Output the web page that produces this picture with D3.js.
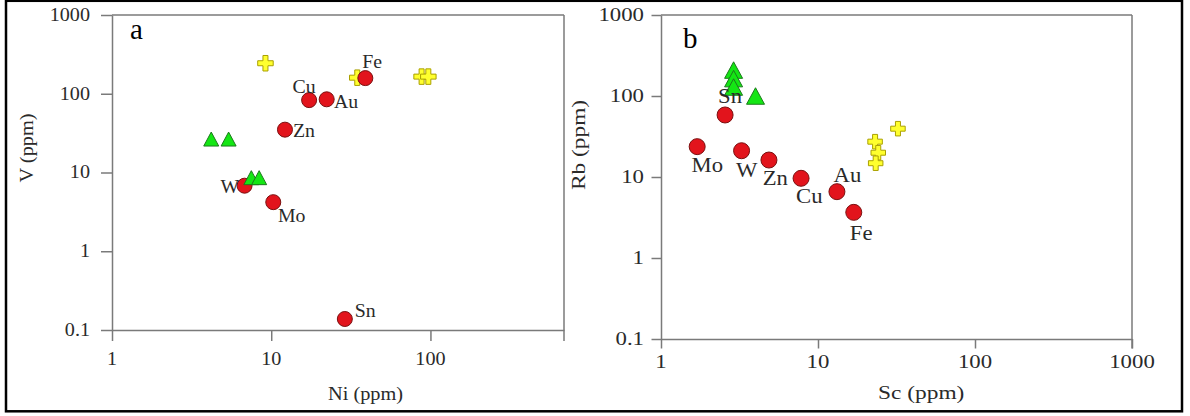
<!DOCTYPE html>
<html><head><meta charset="utf-8">
<script src="https://cdn.jsdelivr.net/npm/d3@7/dist/d3.min.js"></script>
<style>body{margin:0;background:#fff}svg{display:block}</style>
</head><body>
<svg id="c" width="1190" height="416"></svg>
<script>
// ---------- data ----------
const elements = ["Fe","Cu","Au","Zn","W","Mo","Sn"];
// panel a: Ni (x) vs V (y)
const niA = [39, 17.3, 22.3, 12.2, 6.8, 10.3, 29];
const vA  = [158, 83, 85, 35, 6.8, 4.2, 0.138];
const crossNiA = [9.2, 34.7, 88, 97];
const crossVA  = [244, 160, 165, 165];
const triNiA = [4.2, 5.4, 7.5, 8.4];
const triVA  = [26.6, 26.6, 8.6, 8.6];
// panel b: Sc (x) vs Rb (y)
const scB = [16.9, 7.8, 13.2, 4.87, 3.26, 1.70, 2.56];
const rbB = [3.66, 9.64, 6.59, 16.2, 21.1, 23.7, 58.3];
const crossScB = [23.1, 24.2, 23.3, 32.3];
const crossRbB = [27.3, 19.95, 14.8, 39.5];
const triScB = [2.9, 2.9, 2.9, 4.0];
const triRbB = [209, 164, 129, 100];
// tick labels
const xTicksA = [1, 10, 100];
const xTicksB = [1, 10, 100, 1000];
const yTicks = [0.1, 1, 10, 100, 1000];

// ---------- layout ----------
const svg = d3.select("#c");
const FONT = "'Liberation Serif','Times New Roman',serif";
const AX = "#7a7a7a", TXT = "#2a2a2a";

svg.append("rect").attr("x",6).attr("y",0.8).attr("width",1176).attr("height",410.5)
  .attr("fill","none").attr("stroke","#000").attr("stroke-width",2.5);

function txt(g, s, x, y, size, sx, opts={}) {
  let tr = `translate(${x},${y})` + (opts.rot ? ` rotate(${opts.rot})` : "") + ` scale(${sx},1)`;
  return g.append("text").attr("transform", tr).attr("font-family",FONT)
    .attr("font-size",size).attr("fill",TXT)
    .attr("text-anchor", opts.anchor || "start")
    .attr("dy", opts.dy || 0).text(s);
}

const panels = [
  { id:"a", L:112, R:564, T:15, B:330, xDom:[1,690], xTicks:xTicksA, tick:11,
    xs:niA, ys:vA, cx:crossNiA, cy:crossVA, tx:triNiA, ty:triVA,
    r:7.5, crossS:15.5, crossT:5, triW:15, triH:14,
    tickFont:18, tickSx:1.12, yLabEnd:90, xLabY:365,
    labFont:18, labSx:1.1,
    xTitle:"Ni (ppm)", xTitleX:328, xTitleY:400, yTitle:"V (ppm)", yTitleX:33, yTitleY:148, titleFont:18, titleSx:1.13,
    pl:"a", plX:130, plY:39,
    offs:{Fe:[-3,-10],Cu:[-16.6,-7],Au:[7.3,9],Zn:[8,7],W:[-24,7.3],Mo:[4.7,19.7],Sn:[10,-2.3]} },
  { id:"b", L:661, R:1132, T:15, B:339, xDom:[1,1000], xTicks:xTicksB, tick:9.5,
    xs:scB, ys:rbB, cx:crossScB, cy:crossRbB, tx:triScB, ty:triRbB,
    r:8, crossS:14.5, crossT:5, triW:18, triH:16.5,
    tickFont:19, tickSx:1.2, yLabEnd:644, xLabY:368,
    labFont:21, labSx:1.08,
    xTitle:"Sc (ppm)", xTitleX:878, xTitleY:399, yTitle:"Rb (ppm)", yTitleX:585, yTitleY:145, titleFont:19.5, titleSx:1.2,
    pl:"b", plX:683, plY:48,
    offs:{Fe:[-4,27.7],Cu:[-5,24.7],Au:[-3.4,-10],Zn:[-6.3,25],W:[-5.7,26],Mo:[-5.6,25],Sn:[-7,-12]} }
];

const fmt = d => d >= 1 ? String(d) : String(d);

panels.forEach(p => {
  const g = svg.append("g");
  const x = d3.scaleLog().domain(p.xDom).range([p.L, p.R]);
  const y = d3.scaleLog().domain([0.1,1000]).range([p.B, p.T]);

  // axes
  const gx = g.append("g").attr("transform",`translate(0,${p.B})`)
    .call(d3.axisBottom(x).tickValues(p.xTicks).tickSize(p.tick).tickSizeOuter(0).tickFormat(""));
  const gy = g.append("g").attr("transform",`translate(${p.L},0)`)
    .call(d3.axisLeft(y).tickValues(yTicks).tickSize(p.tick).tickSizeOuter(0).tickFormat(""));
  [gx,gy].forEach(a => { a.selectAll("path,line").attr("stroke",AX).attr("stroke-width",1.5); });
  // frame top & right (right extends as tick)
  g.append("line").attr("x1",p.L).attr("x2",p.R).attr("y1",p.T).attr("y2",p.T).attr("stroke",AX).attr("stroke-width",1.5);
  g.append("line").attr("x1",p.R).attr("x2",p.R).attr("y1",p.T).attr("y2",p.B+p.tick).attr("stroke",AX).attr("stroke-width",1.5);

  // tick labels
  p.xTicks.forEach(t => txt(g, fmt(t), x(t), p.xLabY, p.tickFont, p.tickSx, {anchor:"middle"}));
  yTicks.forEach(t => txt(g, fmt(t), p.yLabEnd, y(t), p.tickFont, p.tickSx, {anchor:"end", dy:"0.33em"}));

  // titles
  txt(g, p.xTitle, p.xTitleX, p.xTitleY, p.titleFont, p.titleSx);
  txt(g, p.yTitle, p.yTitleX, p.yTitleY, p.titleFont, p.titleSx, {anchor:"middle", rot:-90});
  txt(g, p.pl, p.plX, p.plY, 29, 1.0).attr("fill","#000");

  // crosses
  const s = p.crossS/2, t = p.crossT/2;
  const crossPath = `M${-t},${-s}H${t}V${-t}H${s}V${t}H${t}V${s}H${-t}V${t}H${-s}V${-t}H${-t}Z`;
  g.selectAll(".cr").data(p.cx.map((v,i)=>[v,p.cy[i]])).join("path")
    .attr("d",crossPath).attr("transform",d=>`translate(${x(d[0])},${y(d[1])})`)
    .attr("fill","#ffff2e").attr("stroke","#aaa000").attr("stroke-width",1);

  // circles
  const pts = elements.map((e,i)=>({e, xv:p.xs[i], yv:p.ys[i]}));
  g.selectAll(".ci").data(pts).join("circle")
    .attr("cx",d=>x(d.xv)).attr("cy",d=>y(d.yv)).attr("r",p.r)
    .attr("fill","#e2141c").attr("stroke","#7a1010").attr("stroke-width",1);

  // triangles (bbox centred on point)
  const w = p.triW/2, h = p.triH/2;
  const triPath = `M0,${-h}L${w},${h}L${-w},${h}Z`;
  g.selectAll(".tr").data(p.tx.map((v,i)=>[v,p.ty[i]])).join("path")
    .attr("d",triPath).attr("transform",d=>`translate(${x(d[0])},${y(d[1])})`)
    .attr("fill","#14e614").attr("stroke","#1c7a1c").attr("stroke-width",1);

  // element labels
  pts.forEach(d => {
    const o = p.offs[d.e];
    txt(g, d.e, x(d.xv)+o[0], y(d.yv)+o[1], p.labFont, p.labSx);
  });
});
</script>
</body></html>
